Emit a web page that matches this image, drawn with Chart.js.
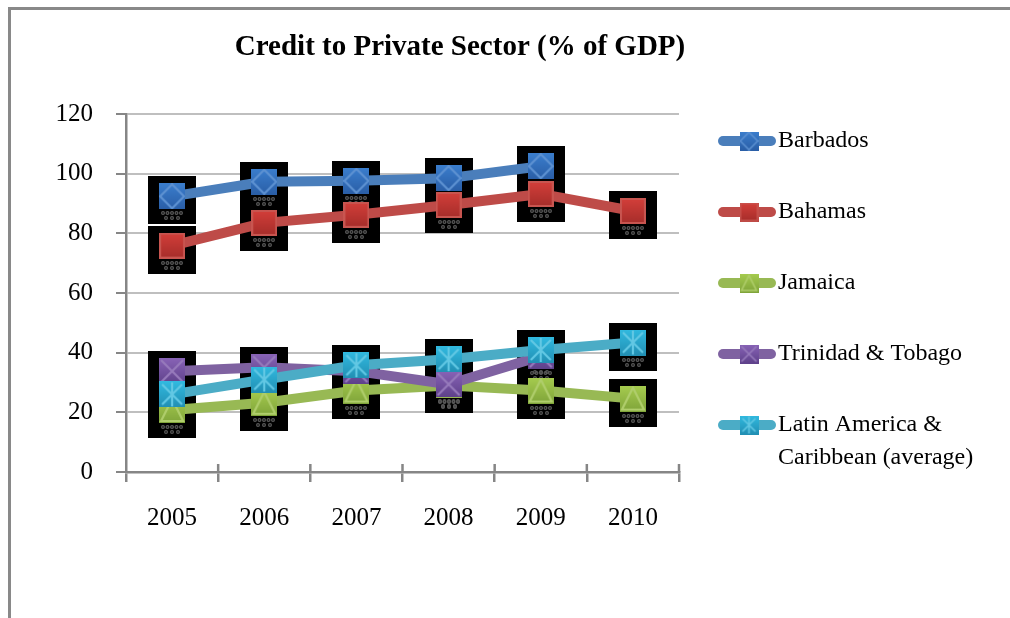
<!DOCTYPE html>
<html>
<head>
<meta charset="utf-8">
<script src="https://cdn.jsdelivr.net/npm/chart.js@4.4.1/dist/chart.umd.min.js"></script>
<style>
  html, body { margin: 0; padding: 0; background: #fff; }
  #wrap { position: relative; width: 1010px; height: 618px; overflow: hidden; }
  #frame { position: absolute; left: 8px; top: 7px; width: 1100px; height: 700px;
           border-left: 3px solid #898989; border-top: 3px solid #898989; pointer-events: none; }
</style>
</head>
<body>
<div id="wrap">
  <canvas id="myChart" width="1010" height="618"></canvas>
  <div id="frame"></div>
</div>
<script>
const years = ['2005', '2006', '2007', '2008', '2009', '2010'];
const seriesNames = ['Barbados', 'Bahamas', 'Jamaica', 'Trinidad & Tobago', 'Latin America & Caribbean (average)'];
const legendLines = [['Barbados', ''], ['Bahamas', ''], ['Jamaica', ''], ['Trinidad & Tobago', ''], ['Latin America &', 'Caribbean (average)']];

const barbados = [92.4, 97.3, 97.6, 98.5, 102.5, null];
const bahamas = [75.9, 83.5, 86.2, 89.5, 93.2, 87.5];
const jamaica = [20.8, 23.2, 27.3, 29.0, 27.3, 24.6];
const trinidad = [33.8, 35.1, 33.8, 29.4, 38.8, null];
const latinAmerica = [26.0, 31.0, 35.8, 37.8, 40.9, 43.4];

const FONT = "'Liberation Serif', 'Times New Roman', serif";

// marker look: gradient square with a light symbol drawn on it
function markerCanvas(size, top, bottom, light, symbol) {
    const c = document.createElement('canvas');
    c.width = size;
    c.height = size;
    const g = c.getContext('2d');
    const grad = g.createLinearGradient(0, 0, 0, size);
    grad.addColorStop(0, top);
    grad.addColorStop(1, bottom);
    g.fillStyle = grad;
    g.fillRect(0, 0, size, size);
    g.strokeStyle = light;
    g.lineWidth = Math.max(1.5, size / 12);
    const m = size / 2;
    g.beginPath();
    if (symbol === 'diamond') {
        const r = size * 0.46;
        g.moveTo(m, m - r); g.lineTo(m + r, m); g.lineTo(m, m + r); g.lineTo(m - r, m); g.closePath();
    } else if (symbol === 'square') {
        g.rect(1, 1, size - 2, size - 2);
    } else if (symbol === 'triangle') {
        g.moveTo(m, 2); g.lineTo(size - 2, size - 2); g.lineTo(2, size - 2); g.closePath();
    } else if (symbol === 'cross') {
        g.moveTo(2, 2); g.lineTo(size - 2, size - 2);
        g.moveTo(size - 2, 2); g.lineTo(2, size - 2);
    } else if (symbol === 'star') {
        g.moveTo(m, 1); g.lineTo(m, size - 1);
        g.moveTo(3, 3); g.lineTo(size - 3, size - 3);
        g.moveTo(size - 3, 3); g.lineTo(3, size - 3);
    }
    g.stroke();
    return c;
}

function legendCanvas(lineColor, marker) {
    const c = document.createElement('canvas');
    c.width = 102;
    c.height = 20;
    const g = c.getContext('2d');
    g.strokeStyle = lineColor;
    g.lineWidth = 10;
    g.lineCap = 'round';
    g.beginPath();
    g.moveTo(49, 10);
    g.lineTo(97, 10);
    g.stroke();
    g.drawImage(marker, 75 - 9.5, 0.5, 19, 19);
    return c;
}

const styles = [
    { line: '#4A7EBB', top: '#3B7ECD', bottom: '#2A5EA6', light: '#5E92D2', symbol: 'diamond' },
    { line: '#BE4B48', top: '#D43F3A', bottom: '#A52D2A', light: '#C85550', symbol: 'square' },
    { line: '#98B954', top: '#A6CC4F', bottom: '#7FA43A', light: '#B0CE6C', symbol: 'triangle' },
    { line: '#7F62A1', top: '#8863B6', bottom: '#5E418A', light: '#977BBC', symbol: 'cross' },
    { line: '#4BACC6', top: '#31BAE0', bottom: '#228FB3', light: '#62C8E4', symbol: 'star' }
];
const seriesData = [barbados, bahamas, jamaica, trinidad, latinAmerica];

const pointIcons = styles.map(s => markerCanvas(26, s.top, s.bottom, s.light, s.symbol));
const legendIcons = styles.map(s => legendCanvas(s.line, markerCanvas(19, s.top, s.bottom, s.light, s.symbol)));

// black shadow squares (and dotted reflection) behind every marker
const markerShadows = {
    id: 'markerShadows',
    beforeDatasetsDraw(chart) {
        const ctx = chart.ctx;
        const pts = [];
        chart.getSortedVisibleDatasetMetas().forEach(meta => {
            meta.data.forEach(pt => {
                if (!pt.skip) pts.push([Math.round(pt.x), Math.round(pt.y)]);
            });
        });
        ctx.save();
        ctx.fillStyle = '#000';
        pts.forEach(([x, y]) => ctx.fillRect(x - 24, y - 20, 48, 48));
        ctx.strokeStyle = '#5a5a5a';
        ctx.lineWidth = 1.2;
        pts.forEach(([x, y]) => {
            [[-9, 17], [-4.5, 17], [0, 17], [4.5, 17], [9, 17], [-6, 22], [0, 22], [6, 22]].forEach(([dx, dy]) => {
                ctx.beginPath();
                ctx.arc(x + dx, y + dy, 1.4, 0, Math.PI * 2);
                ctx.stroke();
            });
        });
        ctx.restore();
    }
};

// the category tick marks cross the x axis a little
const crossTicks = {
    id: 'crossTicks',
    afterDraw(chart) {
        const xs = chart.scales.x;
        const ctx = chart.ctx;
        const step = (xs.right - xs.left) / xs.ticks.length;
        ctx.save();
        ctx.strokeStyle = '#868686';
        ctx.lineWidth = 2.5;
        ctx.beginPath();
        for (let i = 1; i <= xs.ticks.length; i++) {
            const x = xs.left + step * i;
            ctx.moveTo(x, xs.top - 8);
            ctx.lineTo(x, xs.top);
        }
        ctx.stroke();
        ctx.restore();
    }
};

// title is centred over the plot+legend region of the original, not the full width
const titleShift = {
    id: 'titleShift',
    afterLayout(chart) {
        chart.titleBlock.left = 0;
        chart.titleBlock.right = 920;
    }
};

const legendWidth = {
    id: 'legendWidth',
    beforeInit(chart) {
        const fit = chart.legend.fit;
        chart.legend.fit = function () {
            fit.call(this);
            this.width = 331;
        };
    }
};

const ctx = document.getElementById('myChart');

new Chart(ctx, {
    type: 'line',
    data: {
        labels: years,
        datasets: seriesData.map((d, i) => ({
            label: seriesNames[i],
            data: d,
            borderColor: styles[i].line,
            backgroundColor: styles[i].line,
            borderWidth: 10,
            borderJoinStyle: 'round',
            pointStyle: pointIcons[i],
            pointRadius: 13,
            pointHoverRadius: 13,
            order: 5 - i
        }))
    },
    options: {
        responsive: false,
        maintainAspectRatio: false,
        animation: false,
        devicePixelRatio: 1,
        layout: {
            padding: { left: 0, right: 0, top: 0, bottom: 10 }
        },
        plugins: {
            title: {
                display: true,
                text: 'Credit to Private Sector (% of GDP)',
                color: '#000',
                font: { family: FONT, size: 29, weight: 'bold', lineHeight: 1.2 },
                padding: { top: 30, bottom: 49.2 }
            },
            legend: {
                display: true,
                position: 'right',
                labels: {
                    usePointStyle: true,
                    pointStyleWidth: 82,
                    padding: 5,
                    color: '#000',
                    font: { family: FONT, size: 24, lineHeight: 1.375 },
                    generateLabels(chart) {
                        return Chart.defaults.plugins.legend.labels.generateLabels(chart).map((item, i) => {
                            item.text = legendLines[i];
                            item.pointStyle = legendIcons[i];
                            return item;
                        });
                    }
                }
            },
            tooltip: {
                enabled: false
            }
        },
        elements: {
            line: {
                tension: 0
            }
        },
        scales: {
            x: {
                offset: true,
                grid: {
                    display: true,
                    drawOnChartArea: false,
                    offset: true,
                    tickLength: 10,
                    tickColor: '#868686',
                    lineWidth: 2.5
                },
                border: { color: '#868686', width: 2.5 },
                ticks: {
                    color: '#000',
                    font: { family: FONT, size: 25 },
                    padding: 21,
                    maxRotation: 0
                },
                afterFit(scale) {
                    scale.height = 136;
                }
            },
            y: {
                min: 0,
                max: 120,
                ticks: {
                    stepSize: 20,
                    color: '#000',
                    font: { family: FONT, size: 25 },
                    padding: 23
                },
                grid: {
                    color: '#BFBFBF',
                    lineWidth: 2,
                    tickColor: '#868686',
                    tickLength: 10
                },
                border: { color: '#868686', width: 2.5 },
                afterFit(scale) {
                    scale.width = 126;
                }
            }
        }
    },
    plugins: [markerShadows, crossTicks, titleShift, legendWidth]
});
</script>
</body>
</html>
